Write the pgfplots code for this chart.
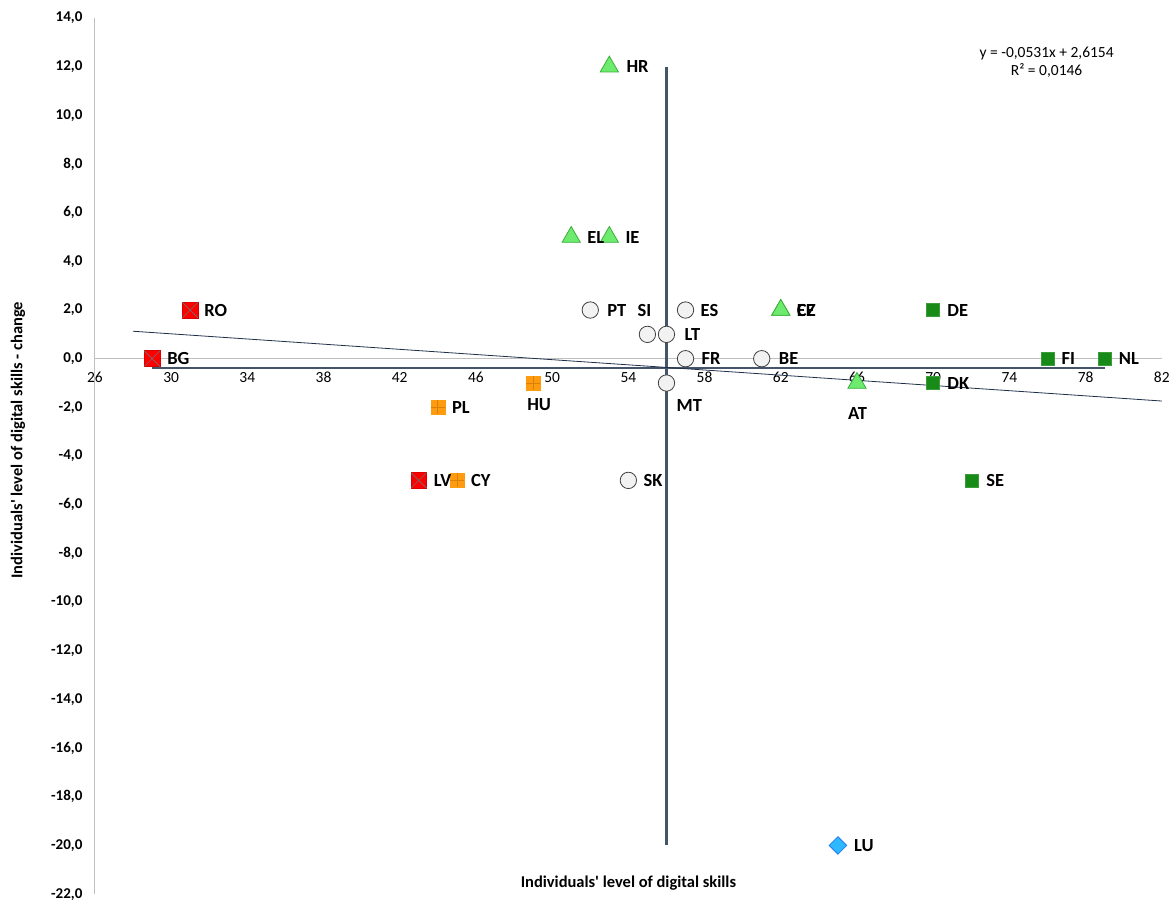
\documentclass[border=0pt]{standalone}
\usepackage{pgfplots}
\pgfplotsset{compat=1.18}
\usepackage{pgfplotstable}
\usepackage{fontspec}
\setmainfont{Carlito}[Ligatures=TeXOff]
\definecolor{redm}{HTML}{FF0000}
\definecolor{redx}{HTML}{707070}
\definecolor{orangem}{HTML}{FF9B0F}
\definecolor{orangex}{HTML}{D9800A}
\definecolor{trifill}{HTML}{6EEB6E}
\definecolor{triedge}{HTML}{38B038}
\definecolor{circfill}{HTML}{F2F2F2}
\definecolor{circedge}{HTML}{404040}
\definecolor{greenfill}{HTML}{178A17}
\definecolor{greenedge}{HTML}{3C9C3C}
\definecolor{bluefill}{HTML}{2EB8FF}
\definecolor{blueedge}{HTML}{1E7AF0}
\definecolor{meanline}{HTML}{44546A}
\definecolor{trendc}{HTML}{1F3048}

\pgfplotsset{
  layers/mylayers/.define layer set={
    axis background,axis grid,axis ticks,axis lines,main,axis tick labels,axis descriptions,axis foreground
  }{},
}

\pgfplotstableread{
x y
31 2
29 0
43 -5
}\redtab
\pgfplotstableread{
x y
49 -1
44 -2
45 -5
}\orangetab
\pgfplotstableread{
x y
53 12
51 5
53 5
62 2
62 2
66 -1
}\tritab
\pgfplotstableread{
x y
52 2
55 1
56 1
57 2
57 0
61 0
56 -1
54 -5
}\circtab
\pgfplotstableread{
x y
70 2
76 0
79 0
70 -1
72 -5
}\greentab
\pgfplotstableread{
x y
65 -20
}\bluetab
\pgfplotstableread{
x y label dx dy
31 2 RO 14 0
29 0 BG 15 0
43 -5 LV 15 0
49 -1 HU -6 -22
44 -2 PL 14 0
45 -5 CY 14 0
53 12 HR 17 0
51 5 EL 16 0
53 5 IE 16 0
62 2 EE 16 0
62 2 CZ 16 0
66 -1 AT -9 -30
52 2 PT 17 0
55 1 SI -10 24
56 1 LT 18 0
57 2 ES 15 0
57 0 FR 16 0
61 0 BE 17 0
56 -1 MT 10 -22
54 -5 SK 15 0
70 2 DE 14 0
76 0 FI 14 0
79 0 NL 14 0
70 -1 DK 14 0
72 -5 SE 15 0
65 -20 LU 16 0
}\labeltab

\begin{document}
\begin{tikzpicture}
\path (0,0) rectangle (1173pt,902pt);
\begin{axis}[
  set layers=mylayers,
  at={(95pt,7pt)}, anchor=south west,
  width=1068pt, height=877pt, scale only axis,
  xmin=26, xmax=82, ymin=-22, ymax=14,
  axis x line=middle, axis y line=left,
  axis line style={-, draw=black!25, line width=1pt},
  hide obscured x ticks=false,
  xtick={26,30,...,82}, ytick={-22,-20,...,14},
  major tick length=0pt,
  /pgf/number format/assume math mode=true,
  xticklabel style={font=\fontsize{15.5}{16}\selectfont, yshift=-10pt},
  yticklabel style={font=\fontsize{15}{16}\selectfont\bfseries, xshift=-9pt},
  yticklabel={\pgfmathprintnumber[fixed,fixed zerofill,precision=1,use comma]{\tick}},
  clip=false,
]
% mean lines
\addplot[meanline, line width=2.6pt, no marks] coordinates {(56,12) (56,-20)};
\addplot[meanline, line width=2.6pt, no marks] coordinates {(29,-0.38) (79,-0.38)};
% trend line
\addplot[trendc, line width=0.8pt, no marks] coordinates {(28,1.1286) (82,-1.7388)};

% red squares with x
\addplot[only marks, mark=square*, mark size=8pt, mark options={fill=redm, draw=redm!85!black, line width=0.6pt}] table[x=x,y=y]{\redtab};
\addplot[only marks, mark=x, mark size=11pt, mark options={draw=redx, line width=0.6pt}] table[x=x,y=y]{\redtab};
% orange squares with +
\addplot[only marks, mark=square*, mark size=7pt, mark options={fill=orangem, draw=orangem, line width=0.5pt}] table[x=x,y=y]{\orangetab};
\addplot[only marks, mark=+, mark size=7pt, mark options={draw=orangex, line width=0.8pt}] table[x=x,y=y]{\orangetab};
% triangles
\addplot[only marks, mark=triangle*, mark size=10.5pt, mark options={fill=trifill, draw=triedge, line width=0.8pt}] table[x=x,y=y]{\tritab};
% circles
\addplot[only marks, mark=*, mark size=8.2pt, mark options={fill=circfill, draw=circedge, line width=0.8pt}] table[x=x,y=y]{\circtab};
% dark green squares
\addplot[only marks, mark=square*, mark size=6.5pt, mark options={fill=greenfill, draw=greenedge, line width=0.6pt}] table[x=x,y=y]{\greentab};
% blue diamond
\addplot[only marks, mark=square*, mark size=6.2pt, mark options={rotate=45, fill=bluefill, draw=blueedge, line width=0.8pt}] table[x=x,y=y]{\bluetab};

% labels
\addplot[only marks, mark=none, nodes near coords, point meta=explicit symbolic,
  visualization depends on={\thisrow{dx} \as \dx},
  visualization depends on={\thisrow{dy} \as \dy},
  every node near coord/.append style={anchor=west, xshift=\dx pt, yshift=\dy pt,
    font=\fontsize{18.5}{18}\selectfont\bfseries, inner sep=0pt, text=black}]
  table[x=x,y=y,meta=label]{\labeltab};

\node[align=center, font=\fontsize{15.5}{18}\selectfont] at (rel axis cs:0.892,0.949) {y = -0,0531x + 2,6154\\R² = 0,0146};
\node[font=\fontsize{16.5}{16}\selectfont\bfseries] at (rel axis cs:0.5,0.0125) {Individuals'  level of digital  skills};
\node[rotate=90, font=\fontsize{16.5}{16}\selectfont\bfseries] at (rel axis cs:-0.072,0.518) {Individuals' level of digital skills - change};
\end{axis}
\end{tikzpicture}
\end{document}
